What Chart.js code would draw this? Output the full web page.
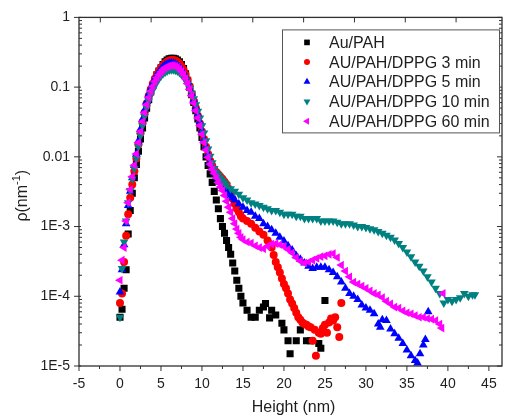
<!DOCTYPE html>
<html>
<head>
<meta charset="utf-8">
<title>Density profiles</title>
<script src="https://cdn.jsdelivr.net/npm/chart.js@4.4.1/dist/chart.umd.min.js"></script>
<style>
  html, body { margin: 0; padding: 0; background: #fff; }
  canvas { display: block; }
</style>
</head>
<body>
<canvas id="profileChart" width="508" height="418"></canvas>
<script>
// height (nm), rho (nm^-1) pairs for each film
const auPah = [
    [0, 5e-5], [0.25, 6.5e-5], [0.5, 1.3e-4], [0.75, 2.4e-4], [1, 7.8e-4], [1.25, 1.7e-3], [1.5, 3e-3], [1.75, 5e-3],
    [2, 7.8e-3], [2.25, 0.012], [2.5, 0.018], [2.75, 0.026], [3, 0.036], [3.25, 0.05], [3.5, 0.066], [3.75, 0.085],
    [4, 0.105], [4.25, 0.125], [4.5, 0.15], [4.75, 0.17], [5, 0.19], [5.25, 0.21], [5.5, 0.23], [5.75, 0.245],
    [6, 0.255], [6.25, 0.26], [6.5, 0.26], [6.75, 0.255], [7, 0.245], [7.25, 0.23], [7.5, 0.21], [7.75, 0.185],
    [8, 0.155], [8.25, 0.125], [8.5, 0.1], [8.75, 0.078], [9, 0.06], [9.25, 0.046], [9.5, 0.035], [9.75, 0.026],
    [10, 0.019], [10.25, 0.014], [10.5, 0.01], [10.75, 0.0075], [11, 0.0057], [11.25, 0.0043], [11.5, 0.0032],
    [11.75, 0.0024], [12, 0.0018], [12.25, 0.0013], [12.5, 0.001], [12.75, 8e-4], [13, 6.3e-4], [13.25, 5e-4],
    [13.5, 4e-4], [13.75, 3e-4], [14, 2.3e-4], [14.25, 1.7e-4], [14.5, 1.3e-4], [14.75, 1e-4], [15, 8e-5],
    [15.5, 6.3e-5], [16, 5e-5], [16.5, 5e-5], [17, 6.3e-5], [17.5, 7e-5], [17.75, 7.9e-5], [18.25, 4.9e-5],
    [18.5, 6.3e-5], [19, 5.4e-5], [19.75, 4.1e-5], [20, 3.3e-5], [20.5, 2.3e-5], [20.75, 1.5e-5], [21.5, 2.3e-5],
    [22, 3.3e-5], [22.75, 2.3e-5], [23.25, 2.3e-5], [24.25, 2.1e-5], [24.5, 1.8e-5], [25, 8.7e-5]
];

const dppg3 = [
    [0, 8e-5], [0.25, 1.1e-4], [0.5, 3.1e-4], [0.75, 7.4e-4], [1, 1.5e-3], [1.25, 2.6e-3], [1.5, 4e-3], [1.75, 6.2e-3],
    [2, 9.5e-3], [2.25, 0.015], [2.5, 0.022], [2.75, 0.031], [3, 0.043], [3.25, 0.058], [3.5, 0.075], [3.75, 0.093],
    [4, 0.112], [4.25, 0.132], [4.5, 0.152], [4.75, 0.17], [5, 0.188], [5.25, 0.205], [5.5, 0.22], [5.75, 0.232],
    [6, 0.24], [6.25, 0.245], [6.5, 0.245], [6.75, 0.24], [7, 0.232], [7.25, 0.218], [7.5, 0.2], [7.75, 0.178],
    [8, 0.152], [8.25, 0.126], [8.5, 0.102], [8.75, 0.081], [9, 0.064], [9.25, 0.05], [9.5, 0.039], [9.75, 0.03],
    [10, 0.023], [10.25, 0.018], [10.5, 0.014], [10.75, 0.011], [11, 0.0088], [11.25, 0.0075], [11.5, 0.0066],
    [11.75, 0.006], [12, 0.0056], [12.25, 0.0052], [12.5, 0.0048], [12.75, 0.0044], [13, 0.004], [13.25, 0.0035],
    [13.5, 0.003], [13.75, 0.0025], [14, 0.0021], [14.25, 0.0018], [14.5, 0.0016], [14.75, 0.0014], [15, 0.0013],
    [15.5, 0.0012], [16, 0.0011], [16.5, 9.6e-4], [17, 8.5e-4], [17.5, 7.6e-4], [18, 6.3e-4], [18.25, 5.6e-4],
    [18.5, 5e-4], [18.75, 3.9e-4], [19, 3.1e-4], [19.25, 2.6e-4], [19.5, 2.2e-4], [19.75, 1.8e-4], [20, 1.5e-4],
    [20.25, 1.3e-4], [20.5, 1.1e-4], [20.75, 9e-5], [21, 7.9e-5], [21.25, 6.8e-5], [21.5, 5.8e-5], [21.75, 5e-5],
    [22, 4.6e-5], [22.25, 4.2e-5], [22.5, 4e-5], [22.75, 3.9e-5], [23, 3.7e-5], [23.25, 3.6e-5], [23.5, 2.3e-5],
    [23.75, 3.3e-5], [23.9, 1.4e-5], [24.25, 3e-5], [24.5, 2.9e-5], [24.75, 3.5e-5], [25, 3.9e-5], [25.25, 3e-5],
    [25.5, 4.2e-5], [25.75, 4.8e-5], [26, 4.5e-5], [26.25, 5e-5], [26.5, 3.6e-5], [26.75, 2.6e-5], [27, 8e-5]
];

const dppg5 = [
    [0, 1.15e-4], [0.25, 2.4e-4], [0.5, 5.5e-4], [0.75, 1.1e-3], [1, 2e-3], [1.25, 3.2e-3], [1.5, 5e-3], [1.75, 7.5e-3],
    [2, 0.011], [2.25, 0.017], [2.5, 0.025], [2.75, 0.035], [3, 0.047], [3.25, 0.062], [3.5, 0.079], [3.75, 0.096],
    [4, 0.114], [4.25, 0.132], [4.5, 0.15], [4.75, 0.166], [5, 0.182], [5.25, 0.196], [5.5, 0.207], [5.75, 0.215],
    [6, 0.22], [6.25, 0.222], [6.5, 0.22], [6.75, 0.215], [7, 0.207], [7.25, 0.195], [7.5, 0.18], [7.75, 0.162],
    [8, 0.142], [8.25, 0.12], [8.5, 0.1], [8.75, 0.082], [9, 0.066], [9.25, 0.052], [9.5, 0.041], [9.75, 0.032],
    [10, 0.024], [10.25, 0.018], [10.5, 0.014], [10.75, 0.011], [11, 0.0088], [11.25, 0.0072], [11.5, 0.006],
    [11.75, 0.0053], [12, 0.0048], [12.25, 0.0043], [12.5, 0.0039], [12.75, 0.0036], [13, 0.0033], [13.25, 0.003],
    [13.5, 0.0028], [13.75, 0.0026], [14, 0.0024], [14.5, 0.0021], [15, 0.0019], [15.5, 0.0017], [16, 0.0016],
    [16.5, 0.0014], [17, 0.0013], [17.5, 0.0011], [18, 0.001], [18.5, 9e-4], [19, 8e-4], [19.5, 7e-4], [20, 6.2e-4],
    [20.5, 5.3e-4], [21, 4.6e-4], [21.5, 3.8e-4], [22, 3.4e-4], [22.5, 3e-4], [23, 2.7e-4], [23.5, 2.5e-4],
    [24, 2.6e-4], [24.5, 2.6e-4], [25, 2.6e-4], [25.5, 2.4e-4], [26, 2.2e-4], [26.5, 1.9e-4], [27, 1.6e-4],
    [27.5, 1.3e-4], [28, 1.1e-4], [28.5, 1e-4], [29, 9e-5], [29.5, 7.5e-5], [30, 6.8e-5], [30.5, 6.3e-5],
    [31, 5.6e-5], [31.5, 4e-5], [31.75, 3.6e-5], [32, 4.6e-5], [32.5, 4.5e-5], [33, 3.4e-5], [33.5, 2.9e-5],
    [34, 2.5e-5], [34.5, 2.1e-5], [35, 1.7e-5], [35.5, 1.4e-5], [36, 1.2e-5], [36.3, 1.1e-5], [36.6, 1.5e-5],
    [37, 2e-5], [37.25, 2.4e-5], [37.6, 6e-5]
];

const dppg10 = [
    [0, 5e-5], [0.25, 2.5e-4], [0.5, 6e-4], [0.75, 1.2e-3], [1, 2.2e-3], [1.25, 3.3e-3], [1.5, 4.8e-3], [1.75, 6.8e-3],
    [2, 0.0095], [2.25, 0.014], [2.5, 0.02], [2.75, 0.028], [3, 0.038], [3.25, 0.05], [3.5, 0.063], [3.75, 0.077],
    [4, 0.091], [4.25, 0.105], [4.5, 0.119], [4.75, 0.132], [5, 0.144], [5.25, 0.155], [5.5, 0.164], [5.75, 0.171],
    [6, 0.176], [6.25, 0.178], [6.5, 0.178], [6.75, 0.175], [7, 0.17], [7.25, 0.162], [7.5, 0.152], [7.75, 0.14],
    [8, 0.126], [8.25, 0.111], [8.5, 0.096], [8.75, 0.082], [9, 0.068], [9.25, 0.056], [9.5, 0.045], [9.75, 0.036],
    [10, 0.028], [10.25, 0.022], [10.5, 0.017], [10.75, 0.013], [11, 0.0102], [11.25, 0.0082], [11.5, 0.0068],
    [11.75, 0.006], [12, 0.0055], [12.25, 0.005], [12.5, 0.0046], [12.75, 0.0042], [13, 0.0039], [13.5, 0.0035],
    [14, 0.0032], [14.5, 0.0029], [15, 0.0026], [15.5, 0.0024], [16, 0.0022], [16.5, 0.0021], [17, 0.002],
    [17.5, 0.0019], [18, 0.0018], [18.5, 0.0017], [19, 0.0017], [19.5, 0.0016], [20, 0.0015], [20.5, 0.0015],
    [21, 0.0015], [21.5, 0.0014], [22, 0.0014], [22.5, 0.0013], [23, 0.0013], [23.5, 0.0013], [24, 0.0013],
    [24.5, 0.0012], [25, 0.0012], [25.5, 0.0012], [26, 0.0012], [26.5, 0.00115], [27, 0.0011], [27.5, 0.0011],
    [28, 0.0011], [28.5, 0.00105], [29, 0.001], [29.5, 0.001], [30, 0.00097], [30.5, 0.00093], [31, 0.0009],
    [31.5, 0.00085], [32, 0.0008], [32.5, 0.00075], [33, 0.0007], [33.5, 0.00064], [34, 0.00057], [34.5, 0.0005],
    [35, 0.00043], [35.5, 0.00037], [36, 0.00031], [36.5, 0.00027], [37, 0.00023], [37.5, 0.00019], [38, 0.00016],
    [38.5, 0.00013], [39, 0.00011], [39.5, 8e-5], [40, 9e-5], [40.5, 8.5e-5], [41, 9e-5], [41.5, 9.5e-5],
    [42, 1.1e-4], [42.5, 1e-4], [43, 1.05e-4], [43.3, 1.05e-4]
];

const dppg60 = [
    [0, 1.7e-4], [0.25, 3.3e-4], [0.5, 5e-4], [0.75, 1.2e-3], [1, 2.2e-3], [1.25, 3.4e-3], [1.5, 5.2e-3], [1.75, 7.6e-3],
    [2, 0.011], [2.25, 0.016], [2.5, 0.023], [2.75, 0.032], [3, 0.043], [3.25, 0.056], [3.5, 0.071], [3.75, 0.087],
    [4, 0.103], [4.25, 0.12], [4.5, 0.136], [4.75, 0.151], [5, 0.165], [5.25, 0.178], [5.5, 0.189], [5.75, 0.197],
    [6, 0.202], [6.25, 0.205], [6.5, 0.204], [6.75, 0.2], [7, 0.193], [7.25, 0.182], [7.5, 0.168], [7.75, 0.151],
    [8, 0.132], [8.25, 0.112], [8.5, 0.093], [8.75, 0.075], [9, 0.059], [9.25, 0.046], [9.5, 0.036], [9.75, 0.028],
    [10, 0.021], [10.25, 0.016], [10.5, 0.0125], [10.75, 0.0098], [11, 0.0078], [11.25, 0.0066], [11.5, 0.0058],
    [11.75, 0.005], [12, 0.0043], [12.25, 0.0037], [12.5, 0.0033], [12.75, 0.0028], [13, 0.0023], [13.25, 0.0019],
    [13.5, 0.0016], [13.75, 0.0013], [14, 0.0011], [14.25, 9.2e-4], [14.5, 8e-4], [14.75, 7e-4], [15, 6.5e-4],
    [15.5, 6e-4], [16, 5.8e-4], [16.5, 5.3e-4], [17, 5e-4], [17.5, 4.8e-4], [18, 5.2e-4], [18.5, 5.6e-4],
    [19, 5.7e-4], [19.5, 5.5e-4], [20, 5.2e-4], [20.5, 4.7e-4], [21, 4.2e-4], [21.5, 3.6e-4], [22, 3.2e-4],
    [22.5, 3e-4], [23, 3.1e-4], [23.5, 3.3e-4], [24, 3.5e-4], [24.5, 3.7e-4], [25, 3.8e-4], [25.5, 4e-4],
    [26, 4.1e-4], [26.5, 3.6e-4], [27, 2.8e-4], [27.5, 2.3e-4], [28, 1.9e-4], [28.5, 1.6e-4], [29, 1.5e-4],
    [29.5, 1.4e-4], [30, 1.3e-4], [30.5, 1.2e-4], [31, 1.1e-4], [31.5, 1.05e-4], [32, 9.6e-5], [32.5, 8.5e-5],
    [33, 7.8e-5], [33.5, 7e-5], [34, 6.8e-5], [34.5, 6.2e-5], [35, 5.8e-5], [35.5, 5.6e-5], [36, 5.3e-5],
    [36.5, 5e-5], [37, 5e-5], [37.5, 4.8e-5], [38, 4.7e-5], [38.5, 4.5e-5], [39, 4e-5], [39.25, 3.5e-5], [39.4, 1.1e-4]
];

const seriesNames = ['Au/PAH', 'AU/PAH/DPPG 3 min', 'AU/PAH/DPPG 5 min', 'AU/PAH/DPPG 10 min', 'AU/PAH/DPPG 60 min'];
const seriesColors = ['#000000', '#ff0000', '#0000ff', '#008080', '#ff00ff'];

const heightTicks = [-5, 0, 5, 10, 15, 20, 25, 30, 35, 40, 45];
const topTicks = [-2.4, 3.8, 10, 16.2, 22.4, 28.6, 34.8, 41];
const rhoTicks = [1e-5, 1e-4, 1e-3, 0.01, 0.1, 1];

const FONT = '"Liberation Sans", Arial, Helvetica, sans-serif';
const INK = '#1e1e1e';

// marker shapes, one per film
const markers = [
    {pointStyle: 'rect', rotation: 0, radius: 5},
    {pointStyle: 'circle', rotation: 0, radius: 4},
    {pointStyle: 'triangle', rotation: 0, radius: 5},
    {pointStyle: 'triangle', rotation: 180, radius: 5},
    {pointStyle: 'triangle', rotation: 270, radius: 5}
];

function makeDataset(i, rows) {
    return {
        label: seriesNames[i],
        data: rows.map(r => ({x: r[0], y: r[1]})),
        showLine: false,
        pointStyle: markers[i].pointStyle,
        pointRotation: markers[i].rotation,
        pointRadius: markers[i].radius,
        pointBorderWidth: 0,
        backgroundColor: seriesColors[i],
        borderColor: seriesColors[i],
        order: 5 - i
    };
}

// frame, tick marks, axis titles and the boxed legend
const framePlugin = {
    id: 'frame',
    afterDraw(chart) {
        const ctx = chart.ctx;
        const a = chart.chartArea;
        const xs = chart.scales.x;
        const ys = chart.scales.y;

        ctx.save();
        ctx.strokeStyle = '#303030';
        ctx.lineWidth = 1.3;
        ctx.strokeRect(a.left, a.top, a.right - a.left, a.bottom - a.top);

        ctx.lineWidth = 1;
        ctx.beginPath();
        // bottom axis: majors and half-step minors, pointing out
        heightTicks.forEach((v, k) => {
            const px = xs.getPixelForValue(v);
            ctx.moveTo(px, a.bottom);
            ctx.lineTo(px, a.bottom + 5);
            if (k < heightTicks.length - 1) {
                const mx = xs.getPixelForValue(v + 2.5);
                ctx.moveTo(mx, a.bottom);
                ctx.lineTo(mx, a.bottom + 3);
            }
        });
        // top axis, pointing in
        topTicks.forEach(v => {
            const px = xs.getPixelForValue(v);
            ctx.moveTo(px, a.top);
            ctx.lineTo(px, a.top + 5);
        });
        // left and right log axes
        rhoTicks.forEach((v, k) => {
            const py = ys.getPixelForValue(v);
            ctx.moveTo(a.left - 5, py);
            ctx.lineTo(a.left + 2, py);
            ctx.moveTo(a.right, py);
            ctx.lineTo(a.right - 5, py);
            if (k < rhoTicks.length - 1) {
                for (let m = 2; m <= 9; m++) {
                    const my = ys.getPixelForValue(v * m);
                    ctx.moveTo(a.left, my);
                    ctx.lineTo(a.left + 3, my);
                    ctx.moveTo(a.right, my);
                    ctx.lineTo(a.right - 3, my);
                }
            }
        });
        ctx.stroke();

        // axis titles
        ctx.fillStyle = INK;
        ctx.font = '16px ' + FONT;
        ctx.textAlign = 'center';
        ctx.textBaseline = 'middle';
        ctx.fillText('Height (nm)', (a.left + a.right) / 2 + 3, 408);

        ctx.save();
        ctx.translate(23, (a.top + a.bottom) / 2 + 4);
        ctx.rotate(-Math.PI / 2);
        ctx.textAlign = 'left';
        const base = 'ρ(nm';
        const sup = '-1';
        ctx.font = '16px ' + FONT;
        const w1 = ctx.measureText(base).width;
        const w3 = ctx.measureText(')').width;
        ctx.font = '11px ' + FONT;
        const w2 = ctx.measureText(sup).width;
        let x0 = -(w1 + w2 + w3) / 2;
        ctx.font = '16px ' + FONT;
        ctx.fillText(base, x0, 0);
        ctx.font = '11px ' + FONT;
        ctx.fillText(sup, x0 + w1, -6);
        ctx.font = '16px ' + FONT;
        ctx.fillText(')', x0 + w1 + w2, 0);
        ctx.restore();

        // legend box
        const boxR = a.right - 3;
        const boxL = boxR - 217;
        const boxT = a.top + 12;
        const boxH = 103;
        ctx.fillStyle = '#ffffff';
        ctx.fillRect(boxL, boxT, boxR - boxL, boxH);
        ctx.strokeStyle = '#555555';
        ctx.lineWidth = 1;
        ctx.strokeRect(boxL + 0.5, boxT + 0.5, boxR - boxL, boxH);
        ctx.font = '16px ' + FONT;
        ctx.textAlign = 'left';
        ctx.textBaseline = 'middle';
        seriesNames.forEach((name, i) => {
            const rowY = boxT + 13 + i * 19.7;
            ctx.fillStyle = seriesColors[i];
            ctx.strokeStyle = seriesColors[i];
            Chart.helpers.drawPoint(ctx, {
                pointStyle: markers[i].pointStyle,
                rotation: markers[i].rotation,
                radius: markers[i].radius - 1,
                borderWidth: 0
            }, boxL + 25, rowY);
            ctx.fillStyle = INK;
            ctx.fillText(name, boxL + 47, rowY + 1);
        });
        ctx.restore();
    }
};

const ctx = document.getElementById('profileChart').getContext('2d');
const profileChart = new Chart(ctx, {
    type: 'scatter',
    data: {
        datasets: [auPah, dppg3, dppg5, dppg10, dppg60].map((rows, i) => makeDataset(i, rows))
    },
    options: {
        responsive: false,
        animation: false,
        devicePixelRatio: 1,
        layout: {padding: {left: 0, right: 6, top: 15, bottom: 0}},
        plugins: {legend: {display: false}, tooltip: {enabled: false}},
        scales: {
            x: {
                type: 'linear',
                position: 'bottom',
                min: -5,
                max: 46.6,
                grid: {display: false, drawTicks: false},
                border: {display: false},
                ticks: {
                    color: INK,
                    font: {family: FONT, size: 14},
                    padding: 10,
                    maxRotation: 0,
                    autoSkip: false
                },
                afterBuildTicks: s => { s.ticks = heightTicks.map(v => ({value: v})); },
                afterFit: s => { s.height = 52; }
            },
            y: {
                type: 'logarithmic',
                position: 'left',
                min: 1e-5,
                max: 1,
                grid: {display: false, drawTicks: false},
                border: {display: false},
                ticks: {
                    color: INK,
                    font: {family: FONT, size: 14},
                    padding: 9,
                    autoSkip: false,
                    callback: v => v >= 0.01 ? String(v) : '1E' + Math.round(Math.log10(v))
                },
                afterBuildTicks: s => { s.ticks = rhoTicks.map(v => ({value: v})); },
                afterFit: s => { s.width = 79; }
            }
        }
    },
    plugins: [framePlugin]
});
</script>
</body>
</html>
